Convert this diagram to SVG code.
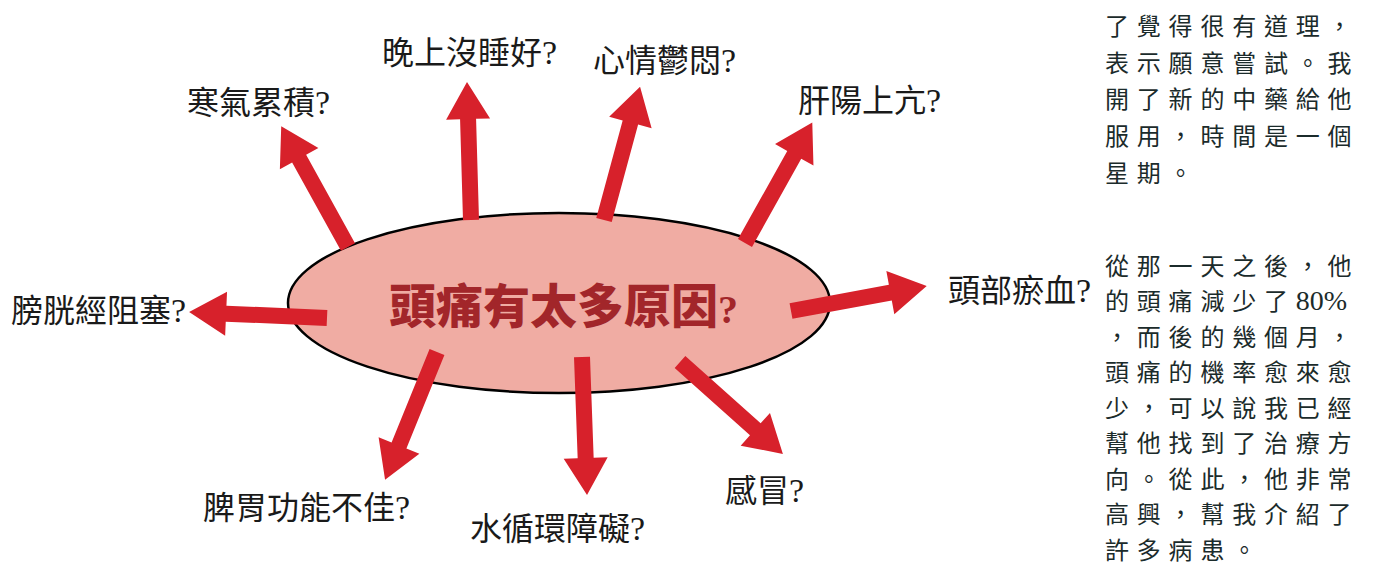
<svg xmlns="http://www.w3.org/2000/svg" xmlns:xlink="http://www.w3.org/1999/xlink" width="1376" height="585" viewBox="0 0 1376 585">
<style>
.lbl{font-family:"Noto Sans CJK TC","Noto Sans CJK SC",sans-serif;font-size:32px;fill:#1a1a1a;}
.q{font-family:"Liberation Serif",serif;font-size:34px;}
.body{font-family:"Noto Sans CJK TC","Noto Sans CJK SC",sans-serif;font-size:24px;fill:#1b2b2b;letter-spacing:7.8px;}
.num{font-family:"Liberation Serif",serif;letter-spacing:0;}
.arrow{fill:#d7212b;}
</style>
<defs>
<path id="arr" d="M0,-8 H101 V-22 L138,0 L101,22 V8 H0 Z"/>
</defs>
<rect width="1376" height="585" fill="#ffffff"/>
<g id="center">
<ellipse cx="559" cy="303" rx="271" ry="90" fill="#f0aca3" stroke="#000" stroke-width="2.5"/>
</g>
<g id="connectors" class="arrow">
<use xlink:href="#arr" transform="translate(348,247) rotate(-118.94)"/>
<use xlink:href="#arr" transform="translate(471,220) rotate(-91.66)"/>
<use xlink:href="#arr" transform="translate(604,220) rotate(-74.85)"/>
<use xlink:href="#arr" transform="translate(745,243) rotate(-60.82)"/>
<use xlink:href="#arr" transform="translate(791,311) rotate(-10.42)"/>
<use xlink:href="#arr" transform="translate(327,318) rotate(-177.53)"/>
<use xlink:href="#arr" transform="translate(437,352) rotate(112.11)"/>
<use xlink:href="#arr" transform="translate(582,357) rotate(87.92)"/>
<use xlink:href="#arr" transform="translate(680,362) rotate(41.78)"/>
</g>
<g id="center-label">
<text x="389" y="323" font-family="'Noto Sans CJK TC','Noto Sans CJK SC',sans-serif" font-weight="900" font-size="47" fill="#a2262a">頭痛有太多原因<tspan font-family="'Liberation Serif',serif" font-weight="bold" font-size="40">?</tspan></text>
</g>
<g id="n-cold"><text class="lbl" x="187" y="114">寒氣累積<tspan class="q">?</tspan></text></g>
<g id="n-sleep"><text class="lbl" x="382" y="64">晚上沒睡好<tspan class="q">?</tspan></text></g>
<g id="n-mood"><text class="lbl" x="593" y="72">心情鬱悶<tspan class="q">?</tspan></text></g>
<g id="n-liver"><text class="lbl" x="798" y="112">肝陽上亢<tspan class="q">?</tspan></text></g>
<g id="n-blood"><text class="lbl" x="948" y="302">頭部瘀血<tspan class="q">?</tspan></text></g>
<g id="n-bladder"><text class="lbl" x="11" y="322">膀胱經阻塞<tspan class="q">?</tspan></text></g>
<g id="n-spleen"><text class="lbl" x="203" y="519">脾胃功能不佳<tspan class="q">?</tspan></text></g>
<g id="n-water"><text class="lbl" x="470" y="540">水循環障礙<tspan class="q">?</tspan></text></g>
<g id="n-flu"><text class="lbl" x="725" y="502">感冒<tspan class="q">?</tspan></text></g>
<g id="para1">
<text class="body" x="1105" y="35">了覺得很有道理，</text>
<text class="body" x="1105" y="72">表示願意嘗試。我</text>
<text class="body" x="1105" y="108">開了新的中藥給他</text>
<text class="body" x="1105" y="145">服用，時間是一個</text>
<text class="body" x="1105" y="182">星期。</text>
</g>
<g id="para2">
<text class="body" x="1105" y="275">從那一天之後，他</text>
<text class="body" x="1105" y="310">的頭痛減少了<tspan class="num" font-size="28">80%</tspan></text>
<text class="body" x="1105" y="346">，而後的幾個月，</text>
<text class="body" x="1105" y="381">頭痛的機率愈來愈</text>
<text class="body" x="1105" y="417">少，可以說我已經</text>
<text class="body" x="1105" y="452">幫他找到了治療方</text>
<text class="body" x="1105" y="488">向。從此，他非常</text>
<text class="body" x="1105" y="523">高興，幫我介紹了</text>
<text class="body" x="1105" y="559">許多病患。</text>
</g>
</svg>
